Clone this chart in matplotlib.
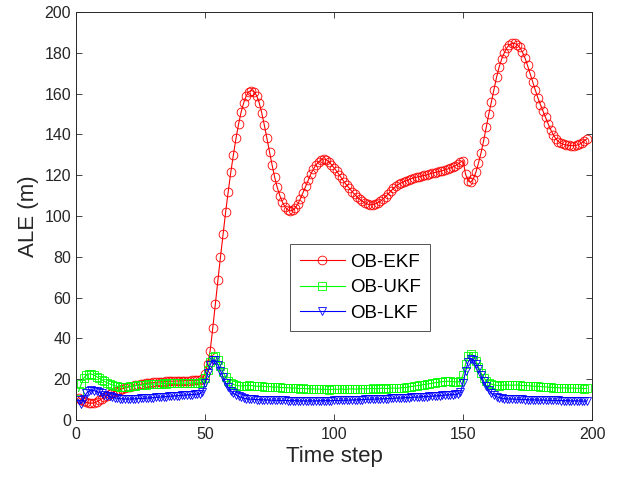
import matplotlib
matplotlib.use("Agg")
import matplotlib.pyplot as plt
import numpy as np

plt.rcParams['font.family'] = ['Liberation Sans', 'DejaVu Sans']

time_step = list(range(1, 199))

ob_ekf = [
    11.0, 10.0, 9.2, 8.6, 8.3, 8.2, 8.4, 8.9, 9.6, 10.4,
    11.2, 12.0, 12.7, 13.3, 13.9, 14.4, 14.9, 15.3, 15.7, 16.1,
    16.4, 16.7, 17.0, 17.3, 17.5, 17.7, 17.9, 18.1, 18.2, 18.4,
    18.5, 18.6, 18.7, 18.8, 18.9, 19.0, 19.0, 19.1, 19.1, 19.2,
    19.2, 19.3, 19.3, 19.3, 19.4, 19.4, 19.5, 19.6, 20.2, 22.5,
    27.5, 34.0, 45.0, 57.0, 68.5, 80.0, 91.0, 102.0, 112.0, 121.5,
    130.0, 138.0, 145.0, 151.0, 155.5, 159.0, 161.0, 161.5, 161.0, 159.0,
    155.5, 150.5, 144.5, 138.0, 131.5, 125.0, 119.0, 114.0, 110.0, 106.8,
    104.5, 103.0, 102.5, 102.8, 104.0, 106.0, 108.5, 111.5, 114.5, 117.5,
    120.5, 123.0, 125.0, 126.5, 127.5, 128.0, 127.6, 126.6, 125.2, 123.6,
    122.0, 120.2, 118.4, 116.6, 115.0, 113.5, 112.0, 110.6, 109.3, 108.2,
    107.2, 106.4, 105.8, 105.5, 105.6, 106.0, 106.6, 107.3, 108.3, 109.5,
    110.8, 112.2, 113.5, 114.6, 115.5, 116.2, 116.8, 117.3, 117.8, 118.3,
    118.7, 119.0, 119.3, 119.6, 119.9, 120.2, 120.6, 121.0, 121.3, 121.6,
    121.9, 122.2, 122.6, 123.0, 123.5, 124.0, 124.6, 125.4, 126.4, 127.2,
    120.5, 117.2, 116.6, 118.2, 121.5, 126.0, 131.0, 137.0, 143.5, 150.0,
    156.0, 162.0, 168.0, 173.0, 177.0, 180.0, 182.5, 184.0, 184.6, 184.6,
    184.0, 182.6, 180.4, 177.5, 173.8, 169.8, 165.8, 161.8, 158.0, 154.6,
    151.4, 148.3, 145.2, 142.3, 139.8, 137.8, 136.5, 135.6, 135.1, 134.8,
    134.6, 134.5, 134.5, 134.7, 135.1, 135.8, 136.8, 137.8,
]

ob_ukf = [
    14.0, 17.5, 20.5, 22.0, 22.6, 22.5, 22.0, 21.2, 20.4, 19.7,
    19.0, 18.3, 17.7, 17.2, 16.8, 16.5, 16.3, 16.2, 16.2, 16.3,
    16.5, 16.6, 16.8, 17.0, 17.1, 17.2, 17.4, 17.5, 17.5, 17.6,
    17.7, 17.6, 17.8, 17.9, 17.8, 17.9, 18.0, 17.9, 18.0, 18.1,
    18.0, 18.1, 18.2, 18.1, 18.2, 18.3, 18.2, 18.3, 18.6, 20.5,
    24.5, 28.5, 30.8, 31.2, 29.5, 26.5, 23.5, 21.0, 19.3, 18.2,
    17.5, 17.0, 16.8, 16.7, 16.8, 16.9, 17.0, 16.9, 16.7, 16.6,
    16.5, 16.6, 16.4, 16.3, 16.4, 16.2, 16.1, 16.2, 16.0, 15.9,
    15.8, 15.9, 15.7, 15.6, 15.7, 15.5, 15.4, 15.5, 15.3, 15.4,
    15.2, 15.3, 15.1, 15.2, 15.0, 15.1, 15.0, 14.9, 15.0, 15.1,
    15.0, 15.1, 15.2, 15.0, 15.1, 15.2, 15.3, 15.1, 15.2, 15.3,
    15.4, 15.2, 15.3, 15.4, 15.5, 15.3, 15.4, 15.5, 15.6, 15.4,
    15.5, 15.6, 15.7, 15.5, 15.6, 15.8, 15.9, 16.0, 16.2, 16.4,
    16.6, 16.8, 17.0, 17.2, 17.4, 17.6, 17.8, 18.0, 18.2, 18.4,
    18.6, 18.8, 18.9, 19.0, 18.9, 18.8, 18.7, 18.6, 19.2, 22.0,
    27.5, 31.5, 32.5, 31.5, 29.0, 26.0, 23.0, 20.8, 19.2, 18.2,
    17.6, 17.2, 17.0, 16.9, 17.0, 17.1, 17.2, 17.1, 17.0, 17.1,
    17.2, 17.0, 16.9, 16.8, 16.9, 16.7, 16.6, 16.5, 16.6, 16.4,
    16.3, 16.2, 16.1, 16.0, 15.9, 15.9, 15.8, 15.7, 15.8, 15.7,
    15.6, 15.7, 15.6, 15.5, 15.6, 15.5, 15.4, 15.5,
]

ob_lkf = [
    10.0, 8.0, 10.5, 13.0, 14.3, 14.6, 14.4, 14.0, 13.5, 13.0,
    12.5, 12.0, 11.6, 11.2, 10.9, 10.7, 10.5, 10.4, 10.3, 10.3,
    10.3, 10.4, 10.4, 10.5, 10.6, 10.6, 10.7, 10.8, 10.9, 11.0,
    11.1, 11.2, 11.3, 11.4, 11.5, 11.6, 11.7, 11.8, 11.9, 12.0,
    12.1, 12.2, 12.3, 12.4, 12.5, 12.6, 12.7, 12.9, 13.7, 18.0,
    23.0, 27.0, 29.5, 29.2, 27.2, 24.2, 21.0, 18.2, 16.0, 14.4,
    13.2, 12.3, 11.6, 11.1, 10.7, 10.5, 10.3, 10.2, 10.1, 10.0,
    10.0, 9.9, 9.9, 9.8, 9.8, 9.7, 9.7, 9.7, 9.6, 9.6,
    9.6, 9.5, 9.5, 9.5, 9.5, 9.4, 9.4, 9.4, 9.4, 9.4,
    9.4, 9.4, 9.4, 9.4, 9.5, 9.5, 9.5, 9.5, 9.5, 9.6,
    9.6, 9.6, 9.7, 9.7, 9.7, 9.8, 9.8, 9.9, 9.9, 10.0,
    10.0, 10.1, 10.1, 10.2, 10.2, 10.3, 10.3, 10.4, 10.4, 10.5,
    10.5, 10.6, 10.6, 10.7, 10.8, 10.8, 10.9, 11.0, 11.0, 11.1,
    11.2, 11.2, 11.3, 11.4, 11.5, 11.5, 11.6, 11.7, 11.8, 11.9,
    12.0, 12.1, 12.2, 12.3, 12.4, 12.5, 12.6, 12.8, 13.5, 18.0,
    24.0, 28.5, 30.0, 29.5, 27.5, 25.0, 22.0, 19.0, 16.5, 14.6,
    13.2, 12.2, 11.5, 11.0, 10.7, 10.5, 10.4, 10.3, 10.3, 10.2,
    10.2, 10.1, 10.1, 10.0, 10.0, 9.9, 9.9, 9.9, 9.8, 9.8,
    9.8, 9.7, 9.7, 9.7, 9.6, 9.6, 9.6, 9.5, 9.5, 9.5,
    9.5, 9.4, 9.4, 9.4, 9.4, 9.3, 9.3, 9.3,
]

series_labels = ['OB-EKF', 'OB-UKF', 'OB-LKF']
x_ticks = [0, 50, 100, 150, 200]
y_ticks = list(range(0, 201, 20))

fig = plt.figure(figsize=(6.19, 4.80), dpi=100)
ax = fig.add_axes([0.1228, 0.125, 0.8336, 0.85])

lw = 0.8
ax.plot(time_step, ob_ekf, color=(1, 0, 0), marker='o', markersize=6.3,
        markerfacecolor='none', markeredgewidth=0.6, linewidth=lw, label=series_labels[0])
ax.plot(time_step, ob_ukf, color=(0, 1, 0), marker='s', markersize=5.2,
        markerfacecolor='none', markeredgewidth=0.6, linewidth=lw, label=series_labels[1])
ax.plot(time_step, ob_lkf, color=(0, 0, 1), marker='v', markersize=6.0,
        markerfacecolor='none', markeredgewidth=0.6, linewidth=lw, label=series_labels[2])

ax.set_xlim(0, 200)
ax.set_ylim(0, 200)
ax.set_xticks(x_ticks)
ax.set_yticks(y_ticks)

axcol = (0.15, 0.15, 0.15)
ax.tick_params(direction='in', length=4, width=0.6, colors=axcol, labelsize=11.5,
               top=True, right=True)
ax.tick_params(axis='x', pad=5)
for sp in ax.spines.values():
    sp.set_color(axcol)
    sp.set_linewidth(0.7)

ax.set_xlabel('Time step', fontsize=16, color=axcol, labelpad=3)
ax.set_ylabel('ALE (m)', fontsize=16, color=axcol, labelpad=4)

leg = ax.legend(loc='upper left', bbox_to_anchor=(0.415, 0.431), fontsize=13.5,
                frameon=True, fancybox=False, handlelength=2.4, borderpad=0.5,
                labelspacing=0.45, handletextpad=0.3, borderaxespad=0)
leg.get_frame().set_edgecolor(axcol)
leg.get_frame().set_linewidth(0.7)

fig.savefig('out.png', dpi=100)
